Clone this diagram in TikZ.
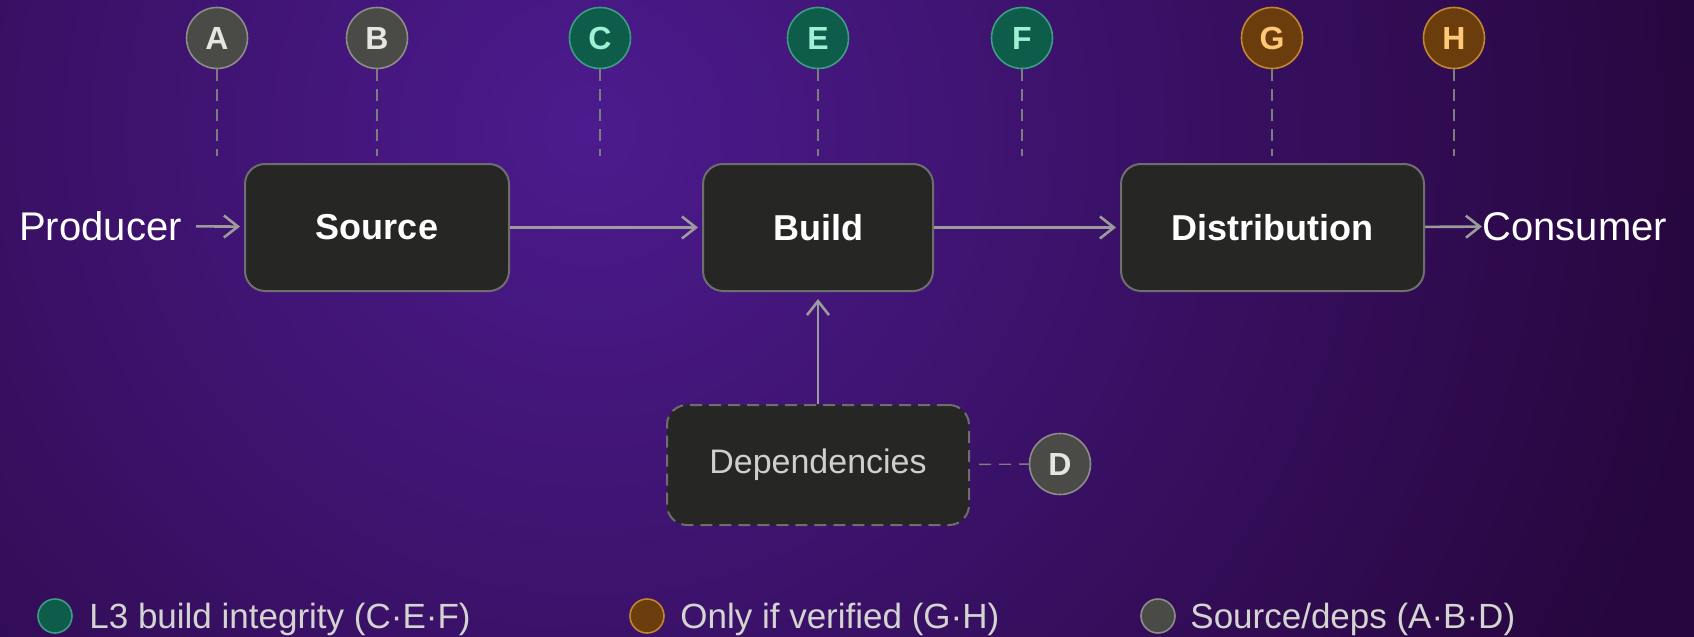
\documentclass[tikz,border=0pt]{standalone}
\usepackage{fontspec}
\setmainfont{Liberation Sans}
\usetikzlibrary{arrows.meta}

\definecolor{bgin}{RGB}{76,27,142}
\definecolor{bgout}{RGB}{38,6,60}
\definecolor{boxfill}{RGB}{38,38,36}
\definecolor{edgegrey}{RGB}{110,110,110}
\definecolor{arrowgrey}{RGB}{155,155,155}
\definecolor{dashgrey}{RGB}{125,125,128}
\definecolor{dotgrey}{RGB}{74,74,70}
\definecolor{ringgrey}{RGB}{140,140,136}
\definecolor{txtgrey}{RGB}{230,230,224}
\definecolor{dotteal}{RGB}{14,92,74}
\definecolor{ringteal}{RGB}{59,158,130}
\definecolor{txtteal}{RGB}{159,240,212}
\definecolor{dotamber}{RGB}{107,61,12}
\definecolor{ringamber}{RGB}{196,134,43}
\definecolor{txtamber}{RGB}{255,201,120}
\definecolor{depstxt}{RGB}{207,207,203}
\definecolor{legendtxt}{RGB}{212,212,208}

\begin{document}
\begin{tikzpicture}[x=0.5pt,y=-0.5pt,
                    stage/.style={draw=edgegrey, line width=1pt, fill=boxfill, rounded corners=10pt,
                                  minimum height=63.5pt, text=white, font=\fontsize{18}{21}\selectfont\bfseries},
                    ends/.style={text=white, inner sep=0pt, font=\fontsize{20}{24}\selectfont},
                    badge/.style={circle, minimum size=30.5pt, inner sep=0pt, line width=0.8pt,
                                  font=\fontsize{16}{18}\selectfont\bfseries},
                    greybadge/.style={badge, draw=ringgrey, fill=dotgrey, text=txtgrey},
                    tealbadge/.style={badge, draw=ringteal, fill=dotteal, text=txtteal},
                    amberbadge/.style={badge, draw=ringamber, fill=dotamber, text=txtamber},
                    flow/.style={draw=arrowgrey, line width=1.3pt, shorten >=2pt,
                                 -{Straight Barb[length=7pt,width=11pt]}},
                    leader/.style={draw=dashgrey, line width=0.7pt, dash pattern=on 6pt off 4pt},
                    key/.style={circle, minimum size=17pt, inner sep=0pt, line width=0.8pt},
                    keytext/.style={anchor=base west, text=legendtxt, inner sep=0pt,
                                    font=\fontsize{17.5}{20}\selectfont}
                    ]
                    % background
                    \useasboundingbox (0,0) rectangle (1694,637);
                    \fill[bgout] (0,0) rectangle (1694,637);
                    \begin{scope}
                        \clip (0,0) rectangle (1694,637);
                        \shade[inner color=bgin, outer color=bgout] (590,130) circle (1150);
                    \end{scope}

                    \node[ends, anchor=base east] (producer) at (182,240) {Producer};
                    \node[stage, minimum width=132pt] (source) at (377,227.5) {Source};
                    \node[stage, minimum width=115pt] (build) at (818,227.5) {Build};
                    \node[stage, minimum width=151.5pt] (dist) at (1272.5,227.5) {Distribution};
                    \node[ends, anchor=base west] (consumer) at (1482,240) {Consumer};
                    \node[stage, dash pattern=on 6pt off 3.5pt, minimum width=151pt, minimum height=60pt,
                          text=depstxt, font=\fontsize{17}{20}\selectfont] (deps) at (818,465) {Dependencies};

                    \draw[flow, shorten <=7pt] (producer) -- (source);
                    \foreach \i/\j in {source/build,build/dist}{
                        \draw[flow] (\i) -- (\j);
                    }
                    \draw[flow, shorten >=0pt] (dist) -- (consumer);
                    \draw[flow, shorten >=3.5pt] (deps) -- (build);

                    % markers over the chain
                    \foreach \n/\x/\s in {A/217/greybadge,B/377/greybadge,C/600/tealbadge,E/818/tealbadge,
                                          F/1022/tealbadge,G/1272/amberbadge,H/1454/amberbadge}{
                        \node[\s] (\n) at (\x,38) {\n};
                        \coordinate (\n-foot) at (\x,156);
                        \draw[leader] (\n) -- (\n-foot);
                    }
                    \node[greybadge] (D) at (1060,464) {D};
                    \draw[leader, shorten <=4.5pt] (deps) -- (D);

                    % legend
                    \node[key, draw=ringteal, fill=dotteal] (k1) at (55,616) {};
                    \node[keytext] (t1) at (89,628) {L3 build integrity (C·E·F)};
                    \node[key, draw=ringamber, fill=dotamber] (k2) at (647,616) {};
                    \node[keytext] (t2) at (680,628) {Only if verified (G·H)};
                    \node[key, draw=ringgrey, fill=dotgrey] (k3) at (1158,616) {};
                    \node[keytext] (t3) at (1190,628) {Source/deps (A·B·D)};
                \end{tikzpicture}
\end{document}
